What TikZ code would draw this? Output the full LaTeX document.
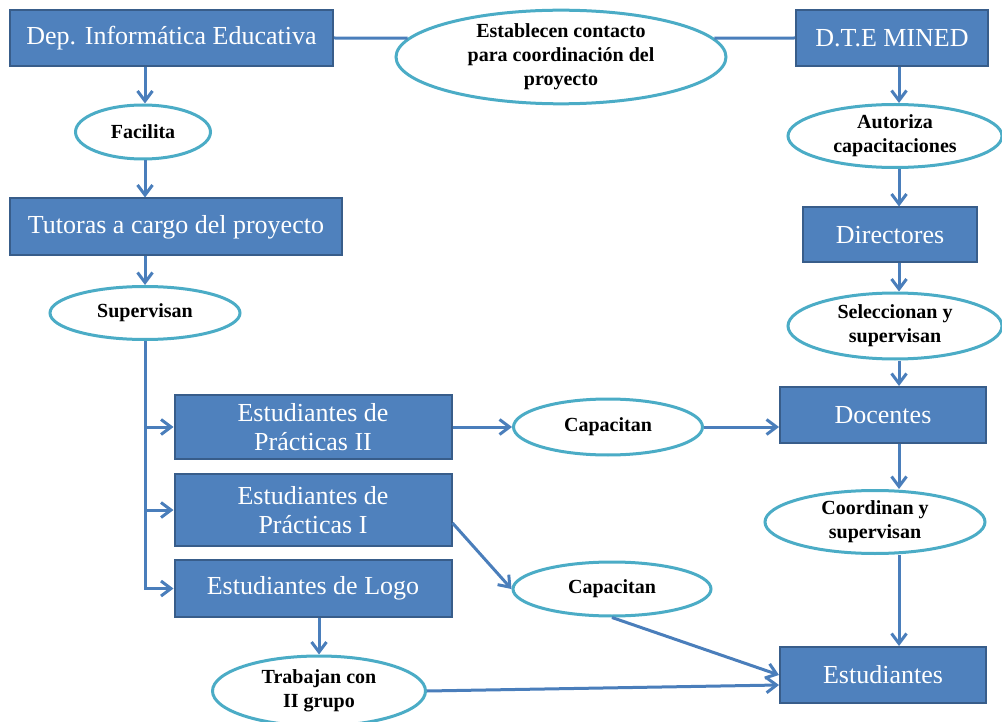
\documentclass[tikz,border=0pt]{standalone}
\usepackage{fontspec}
\setmainfont{Liberation Serif}
\usetikzlibrary{arrows.meta,shapes.geometric,calc}

\definecolor{boxfill}{HTML}{4F81BD}
\definecolor{boxline}{HTML}{385D8A}
\definecolor{ovalline}{HTML}{4BACC6}
\definecolor{linkblue}{HTML}{4A7EBB}

\tikzset{
  unit/.style={rectangle, draw=boxline, fill=boxfill, line width=2pt, text=white,
    align=center, inner sep=0pt, font=\fontsize{26}{29}\selectfont},
  task/.style={ellipse, draw=ovalline, fill=white, line width=3pt, align=center,
    inner sep=0pt, font=\fontsize{20}{24}\selectfont\bfseries},
  link/.style={draw=linkblue, line width=3pt},
  flow/.style={link, -{Straight Barb[length=10pt,width=15pt]}},
}

\begin{document}
\begin{tikzpicture}[x=1pt,y=-1pt]
    \useasboundingbox (0,0) rectangle (1002,722);

    % units
    \node[unit, minimum width=323pt, minimum height=56pt] (dep) at (171.5,38) {Dep. Informática Educativa};
    \node[unit, minimum width=192pt, minimum height=56pt] (dte) at (892,38) {D.T.E MINED};
    \node[unit, minimum width=332pt, minimum height=57pt] (tutoras) at (176,227) {Tutoras a cargo del proyecto};
    \node[unit, minimum width=174pt, minimum height=55pt] (directores) at (890,235) {Directores};
    \node[unit, minimum width=277pt, minimum height=64pt] (practII) at (313,427) {Estudiantes de\\Prácticas II};
    \node[unit, minimum width=277pt, minimum height=72pt] (practI) at (313,510) {Estudiantes de\\Prácticas I};
    \node[unit, minimum width=277pt, minimum height=57pt] (logo) at (313,588.5) {Estudiantes de Logo};
    \node[unit, minimum width=206pt, minimum height=56pt] (docentes) at (883,415) {Docentes};
    \node[unit, minimum width=206pt, minimum height=56pt] (estud) at (883,675) {Estudiantes};

    % actions
    \node[task, minimum width=330pt, minimum height=93pt] (contacto) at (561,57) {Establecen contacto\\para coordinación del\\proyecto};
    \node[task, minimum width=135pt, minimum height=54pt] (facilita) at (143,132) {Facilita};
    \node[task, minimum width=214pt, minimum height=63pt] (autoriza) at (895,136) {Autoriza\\capacitaciones};
    \node[task, minimum width=190pt, minimum height=53pt] (supervisan) at (145,313) {Supervisan};
    \node[task, minimum width=214pt, minimum height=66pt] (selecc) at (895,326) {Seleccionan y\\supervisan};
    \node[task, minimum width=189pt, minimum height=56pt] (capII) at (608,427) {Capacitan};
    \node[task, minimum width=220pt, minimum height=63pt] (coord) at (875,522) {Coordinan y\\supervisan};
    \node[task, minimum width=198pt, minimum height=54pt] (capI) at (612,589) {Capacitan};
    \node[task, minimum width=213pt, minimum height=70pt] (trabajan) at (319,691) {Trabajan con\\II grupo};

    \coordinate (lcol) at (145,0);
    \coordinate (rcol) at (899,0);

    % top link
    \draw[link] (dep.east) -- (contacto.173);
    \draw[link] (contacto.7) -- (dte.west);

    % columns
    \foreach \a/\b in {dep/facilita, facilita/tutoras, tutoras/supervisan}
        \draw[flow] (\a.south -| lcol) -- (\b.north -| lcol);
    \foreach \a/\b in {dte/autoriza, autoriza/directores, directores/selecc, selecc/docentes, docentes/coord, coord/estud}
        \draw[flow] (\a.south -| rcol) -- (\b.north -| rcol);

    % students
    \draw[flow] (supervisan.south) -- (supervisan.south |- logo.west) -- (logo.west);
    \foreach \b in {practII, practI}
        \draw[flow] (supervisan.south |- \b.west) -- (\b.west);

    \draw[flow] (practII.east) -- (capII.west);
    \draw[flow] (capII.east) -- (capII.east -| docentes.west);
    \draw[flow] ([yshift=-13pt]practI.east) -- (capI.west);
    \draw[flow] (capI.south) -- (estud.west);
    \draw[flow] (logo.south -| trabajan.north) -- (trabajan.north);
    \draw[flow] (trabajan.east) -- ([yshift=-10pt]estud.west);
\end{tikzpicture}
\end{document}
